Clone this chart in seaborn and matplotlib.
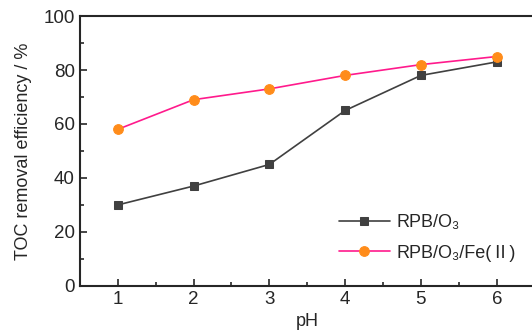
import numpy as np
import pandas as pd
import matplotlib
matplotlib.use("Agg")
import matplotlib.pyplot as plt
import seaborn as sns
from matplotlib.ticker import MultipleLocator

ph = [1, 2, 3, 4, 5, 6]
toc_o3 = [30, 37, 45, 65, 78, 83]
toc_o3_fe = [58, 69, 73, 78, 82, 85]
labels_series = ["RPB/O₃", "RPB/O₃/Fe(Ⅱ)"]

sns.set_style("ticks")
plt.rcParams['font.family'] = ['Liberation Sans', 'Noto Sans CJK SC', 'DejaVu Sans']

df = pd.DataFrame({
    "pH": ph * 2,
    "TOC": toc_o3 + toc_o3_fe,
    "group": [labels_series[0]] * 6 + [labels_series[1]] * 6,
})

fig = plt.figure(figsize=(5.32, 3.34), dpi=100)
ax = fig.add_axes([0.150, 0.144, 0.855, 0.808])

colors = ["#404040", "#ff1a8c"]
faces = ["#404040", "#ff8c1a"]
sizes = [5.5, 7]
sns.lineplot(data=df, x="pH", y="TOC", hue="group", style="group",
             palette=colors, markers=["s", "o"], dashes=False,
             linewidth=1.2, ax=ax)
for line, fc, ms in zip(ax.get_lines()[:2], faces, sizes):
    line.set_markerfacecolor(fc)
    line.set_markeredgecolor(fc)
    line.set_markersize(ms)

ax.set_xlim(0.5, 6.5)
ax.set_ylim(0, 100)
ax.xaxis.set_major_locator(MultipleLocator(1))
ax.xaxis.set_minor_locator(MultipleLocator(0.5))
ax.yaxis.set_major_locator(MultipleLocator(20))
ax.yaxis.set_minor_locator(MultipleLocator(10))
ax.tick_params(which="both", direction="in", labelsize=13.5, width=1.2)
ax.tick_params(which="major", length=5)
ax.tick_params(which="minor", length=3)
for s in ax.spines.values():
    s.set_linewidth(1.5)

ax.set_xlabel("pH", fontsize=13, labelpad=4)
ax.set_ylabel("TOC removal efficiency / %", fontsize=13, labelpad=8)

handles, labels = ax.get_legend_handles_labels()
for h, fc, ms in zip(handles, faces, sizes):
    h.set_markerfacecolor(fc)
    h.set_markeredgecolor(fc)
    h.set_markersize(ms)
ax.legend(handles, labels, loc="lower right", bbox_to_anchor=(0.995, 0.03),
          frameon=False, fontsize=13, handlelength=2.8, handletextpad=0.4,
          labelspacing=0.75)

fig.savefig("out.png", dpi=100)
